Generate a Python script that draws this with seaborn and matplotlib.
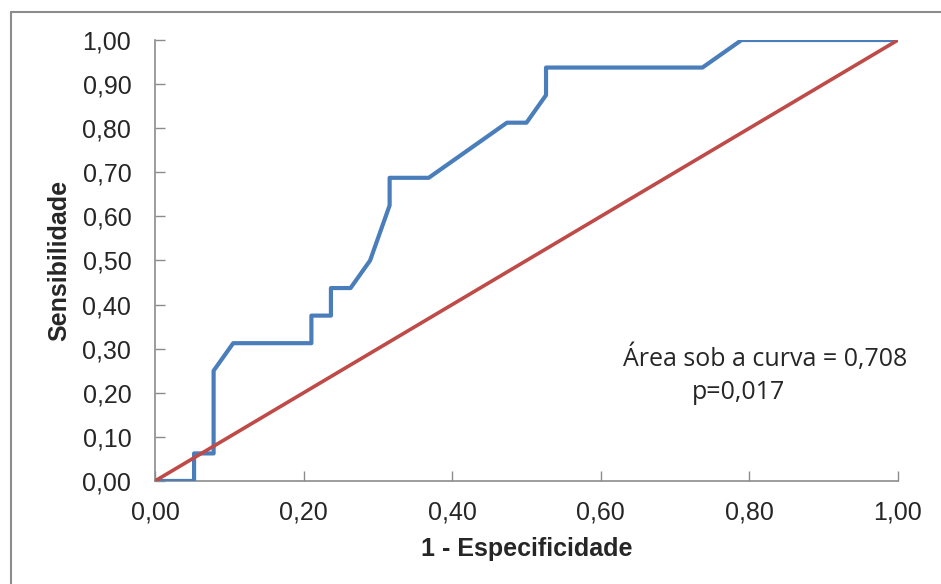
import pandas as pd
import matplotlib.pyplot as plt
import seaborn as sns
from matplotlib.lines import Line2D

# ROC curve points (1 - specificity, sensitivity)
fpr = [0.0, 0.0526, 0.0526, 0.0789, 0.0789, 0.1053, 0.2105, 0.2105, 0.2368, 0.2368,
       0.2632, 0.2895, 0.3158, 0.3158, 0.3684, 0.4737, 0.5, 0.5263, 0.5263, 0.7368,
       0.7895, 1.0]
tpr = [0.0, 0.0, 0.0625, 0.0625, 0.25, 0.3125, 0.3125, 0.375, 0.375, 0.4375,
       0.4375, 0.5, 0.625, 0.6875, 0.6875, 0.8125, 0.8125, 0.875, 0.9375, 0.9375,
       1.0, 1.0]
ref_x = [0.0, 1.0]
ref_y = [0.0, 1.0]
ticks = [0.0, 0.1, 0.2, 0.3, 0.4, 0.5, 0.6, 0.7, 0.8, 0.9, 1.0]
x_ticks = [0.0, 0.2, 0.4, 0.6, 0.8, 1.0]

roc = pd.DataFrame({'fpr': fpr, 'tpr': tpr})
diag = pd.DataFrame({'x': ref_x, 'y': ref_y})

sns.set_style('white')
plt.rcParams['font.family'] = ['Liberation Sans', 'DejaVu Sans']

fig = plt.figure(figsize=(9.41, 5.84), dpi=100)
ax = fig.add_axes([0.1647, 0.1764, 0.7896, 0.7551])

sns.lineplot(data=roc, x='fpr', y='tpr', sort=False, estimator=None,
             color='#4A7EBB', linewidth=3, ax=ax, zorder=3)
sns.lineplot(data=diag, x='x', y='y', sort=False, estimator=None,
             color='#BE4B48', linewidth=2.6, ax=ax, zorder=4)

ax.set_xlim(0, 1)
ax.set_ylim(0, 1)
ax.set_yticks(ticks)
ax.set_yticklabels([f'{t:.2f}'.replace('.', ',') for t in ticks])
ax.set_xticks(x_ticks)
ax.set_xticklabels([f'{t:.2f}'.replace('.', ',') for t in x_ticks])
ax.tick_params(axis='y', direction='in', length=7, width=1, color='#8c8c8c',
               labelsize=18, pad=17, left=True)
ax.tick_params(axis='x', direction='in', length=7, width=1, color='#8c8c8c',
               labelsize=18, pad=14, bottom=True)

for s in ['top', 'right']:
    ax.spines[s].set_visible(False)
for s in ['left', 'bottom']:
    ax.spines[s].set_color('#8c8c8c')
    ax.spines[s].set_linewidth(1.2)

ax.set_xlabel('1 - Especificidade', fontsize=18, fontweight='bold', labelpad=9)
ax.set_ylabel('Sensibilidade', fontsize=18, fontweight='bold', labelpad=8)

ax.text(1.013, 0.279, 'Área sob a curva = 0,708', ha='right', va='center',
        fontsize=18, family=['Open Sans', 'DejaVu Sans'])
ax.text(0.723, 0.2, 'p=0,017', ha='left', va='center',
        fontsize=18, family=['Open Sans', 'DejaVu Sans'])

# outer frame (left and top edges only, as in the screenshot)
fig.add_artist(Line2D([0.0112, 0.0112], [0.0, 0.979], transform=fig.transFigure,
                      color='#8c8c8c', linewidth=1.5))
fig.add_artist(Line2D([0.0112, 1.0], [0.979, 0.979], transform=fig.transFigure,
                      color='#8c8c8c', linewidth=1.5))

fig.savefig('out.png', dpi=100)
